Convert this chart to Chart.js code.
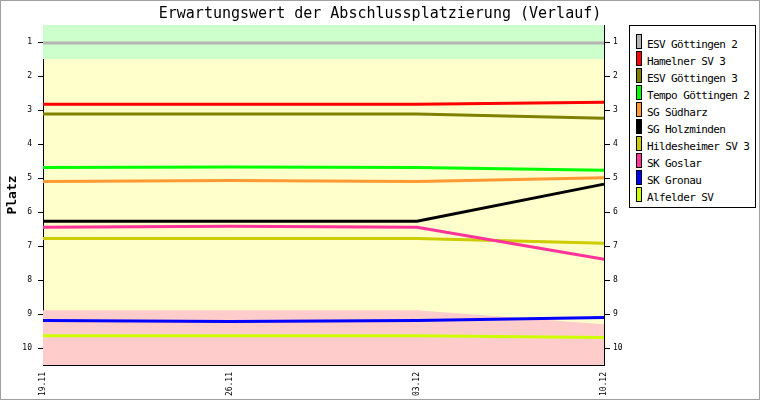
<!DOCTYPE html>
<html>
<head>
<meta charset="utf-8">
<script src="https://cdn.jsdelivr.net/npm/chart.js@4/dist/chart.umd.min.js"></script>
<style>
    body { margin: 0; background: #fff; }
    #wrap { position: relative; width: 760px; height: 400px; }
    #legend {
        position: absolute; left: 629px; top: 25px; width: 127px; height: 183px;
        box-sizing: border-box; border: 1px solid #000; background: #fff;
        padding: 6px 0 0 6px;
        font-family: "DejaVu Sans Mono", monospace; font-size: 11px; letter-spacing: -0.6px; color: #000;
    }
    .item { display: flex; align-items: flex-end; height: 17px; }
    .swatch { width: 6px; height: 15px; box-sizing: border-box; border: 1px solid #000; margin-right: 5px; flex: none; }
    .item span { line-height: 11px; margin-bottom: -1px; white-space: nowrap; }
</style>
</head>
<body>
<div id="wrap">
    <canvas id="chart" width="760" height="400"></canvas>
    <div id="legend"></div>
</div>
<script>
// Spieltage
const dates = ["19.11", "26.11", "03.12", "10.12"];
const yTicks = [1, 2, 3, 4, 5, 6, 7, 8, 9, 10];

// Erwartungswerte je Mannschaft
const esvGoettingen2 = [1.03, 1.03, 1.03, 1.03];
const hamelnerSV3 = [2.83, 2.83, 2.83, 2.77];
const esvGoettingen3 = [3.12, 3.12, 3.12, 3.24];
const tempoGoettingen2 = [4.69, 4.68, 4.69, 4.77];
const sgSuedharz = [5.10, 5.07, 5.10, 4.99];
const sgHolzminden = [6.27, 6.27, 6.27, 5.18];
const hildesheimerSV3 = [6.78, 6.78, 6.78, 6.92];
const skGoslar = [6.45, 6.42, 6.45, 7.39];
const skGronau = [9.19, 9.22, 9.19, 9.10];
const alfelderSV = [9.64, 9.64, 9.64, 9.69];

// Aufstiegs- / Abstiegszone
const aufstiegGrenze = [1.5, 1.5, 1.5, 1.5];
const abstiegGrenze = [8.89, 8.89, 8.89, 9.30];

const teams = ["ESV Göttingen 2", "Hamelner SV 3", "ESV Göttingen 3", "Tempo Göttingen 2", "SG Südharz",
    "SG Holzminden", "Hildesheimer SV 3", "SK Goslar", "SK Gronau", "Alfelder SV"];
const teamData = [esvGoettingen2, hamelnerSV3, esvGoettingen3, tempoGoettingen2, sgSuedharz,
    sgHolzminden, hildesheimerSV3, skGoslar, skGronau, alfelderSV];
const teamColors = ["#b4b4b4", "#ff0000", "#808000", "#00ff00", "#ff9933",
    "#000000", "#cccc00", "#ff3399", "#0000ff", "#ccff00"];

const font = "DejaVu Sans Mono";
Chart.defaults.font.family = font;
Chart.defaults.color = "#000";

let datasets = teams.map((name, i) => ({
    label: name,
    data: teamData[i],
    borderColor: teamColors[i],
    borderWidth: 3,
    pointRadius: 0,
    pointHoverRadius: 0,
    fill: false,
    tension: 0,
    order: teams.length - i
}));
datasets.push({
    label: "Aufstieg",
    data: aufstiegGrenze,
    borderWidth: 0,
    borderColor: "transparent",
    backgroundColor: "#ccffcc",
    pointRadius: 0,
    fill: "end",
    order: 20
});
datasets.push({
    label: "Abstieg",
    data: abstiegGrenze,
    borderWidth: 0,
    borderColor: "transparent",
    backgroundColor: "#ffcccc",
    pointRadius: 0,
    fill: "start",
    order: 21
});

const plotBackground = {
    id: "plotBackground",
    beforeDraw(chart) {
        const { ctx, chartArea } = chart;
        ctx.save();
        ctx.fillStyle = "#ffffcc";
        ctx.fillRect(chartArea.left, chartArea.top, chartArea.right - chartArea.left, chartArea.bottom - chartArea.top);
        ctx.restore();
    },
    afterDraw(chart) {
        const ctx = chart.ctx;
        ctx.save();
        ctx.strokeStyle = "#a0a0a0";
        ctx.lineWidth = 1;
        ctx.strokeRect(0.5, 0.5, chart.width - 1, chart.height - 1);
        ctx.restore();
    }
};

function yAxis(position) {
    const left = position === "left";
    return {
        type: "linear",
        position: position,
        reverse: true,
        min: 0.5,
        max: 10.5,
        afterBuildTicks: axis => { axis.ticks = yTicks.map(v => ({ value: v })); },
        afterFit: axis => { axis.width = left ? 43 : 156; },
        grid: { drawOnChartArea: false, drawTicks: true, tickLength: left ? 5 : 6, color: "#000" },
        border: { display: true, color: "#000", width: 1 },
        ticks: { font: { size: 8 }, padding: left ? 6 : 3, color: "#000" },
        title: {
            display: left,
            text: "Platz",
            font: { size: 13, weight: "bold" },
            padding: { top: 5, bottom: 0 },
            color: "#000"
        }
    };
}

new Chart(document.getElementById("chart"), {
    type: "line",
    data: { labels: dates, datasets: datasets },
    options: {
        responsive: false,
        animation: false,
        events: [],
        layout: { padding: 0 },
        plugins: {
            legend: { display: false },
            tooltip: { enabled: false },
            title: {
                display: true,
                text: "Erwartungswert der Abschlussplatzierung (Verlauf)",
                font: { size: 15, weight: "normal" },
                color: "#000",
                padding: { top: 5, bottom: 2 }
            }
        },
        scales: {
            x: {
                type: "category",
                afterFit: axis => { axis.height = 35; },
                grid: { drawOnChartArea: false, drawTicks: false },
                border: { display: true, color: "#000", width: 1 },
                ticks: { font: { size: 8 }, minRotation: 90, maxRotation: 90, padding: 7, color: "#000" }
            },
            y: yAxis("left"),
            y2: yAxis("right")
        }
    },
    plugins: [plotBackground]
});

// Legende
document.getElementById("legend").innerHTML = teams.map((name, i) =>
    `<div class="item"><div class="swatch" style="background:${teamColors[i]}"></div><span>${name}</span></div>`
).join("");
</script>
</body>
</html>
